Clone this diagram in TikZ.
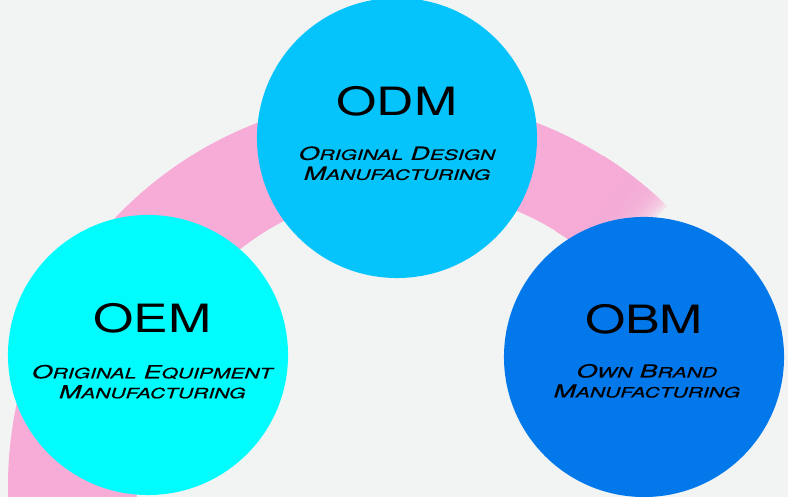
\documentclass[tikz,border=0pt]{standalone}
\usepackage{fontspec}
\usepackage{tikz}
\usetikzlibrary{positioning}

\newfontfamily\titlefont{TeX Gyre Heros}[FakeStretch=1.33]
\newfontfamily\subfont{TeX Gyre Heros}[FakeStretch=1.48, FakeBold=0.6]

\definecolor{bggray}{RGB}{242,244,244}
\definecolor{bandpink}{RGB}{247,172,215}
\definecolor{oemcyan}{RGB}{0,252,252}
\definecolor{odmsky}{RGB}{5,195,251}
\definecolor{obmblue}{RGB}{2,120,235}

% first letter big, the rest as small capitals
\newcommand\fakesc[1]{\fakescaux#1\relax}
\def\fakescaux#1#2\relax{#1{\fontsize{10.1}{14.2}\selectfont\uppercase{#2}}}

\tikzset{
  hub/.style={circle, minimum size=7cm, inner sep=0pt},
  hubtitle/.style={font=\titlefont\fontsize{27.7}{30}\selectfont, inner sep=0pt},
  hubsub/.style={font=\subfont\itshape\fontsize{12.8}{14.2}\selectfont, align=center, inner sep=0pt},
}

\begin{document}
\begin{tikzpicture}[x=0.025cm, y=0.025cm]

\useasboundingbox (0,0) rectangle (788,497);
\fill[bggray] (0,0) rectangle (788,497);
\clip (0,0) rectangle (788,497);

% pink band behind the hubs
\begin{scope}[shift={(397,11)}]
  \begin{scope}
    \clip (0,0) -- (54:600) -- (120:900) -- (190:900) -- cycle;
    \fill[bandpink, even odd rule] (0,0) circle (389) (14,20) circle (276);
  \end{scope}
  % soft end of the band
  \foreach \k in {0,...,15}{
    \begin{scope}
      \clip (0,0) -- ({46+\k/2}:600) -- (58:600) -- cycle;
      \fill[bandpink, fill opacity=0.25, even odd rule] (0,0) circle (389) (14,20) circle (276);
    \end{scope}
  }
\end{scope}

% hubs
\node[hub, fill=oemcyan] (oem) at (148,142) {};
\node[hub, fill=odmsky] (odm) at (397,359) {};
\node[hub, fill=obmblue] (obm) at (644,140) {};

\node[hubtitle] (odmtitle) at ([yshift=26pt]odm.center) {ODM};
\node[hubsub, below=21pt of odmtitle] (odmsub) {\fakesc{Original} \fakesc{Design}\\\fakesc{Manufacturing}};

\node[hubtitle] (oemtitle) at ([xshift=3pt, yshift=26pt]oem.center) {OEM};
\node[hubsub, below=22pt of oemtitle] (oemsub) {\fakesc{Original} \fakesc{Equipment}\\\fakesc{Manufacturing}};

\node[hubtitle] (obmtitle) at ([yshift=27pt]obm.center) {OBM};
\node[hubsub, below=21pt of obmtitle, xshift=2pt] (obmsub) {\fakesc{Own} \fakesc{Brand}\\\fakesc{Manufacturing}};

\end{tikzpicture}
\end{document}
